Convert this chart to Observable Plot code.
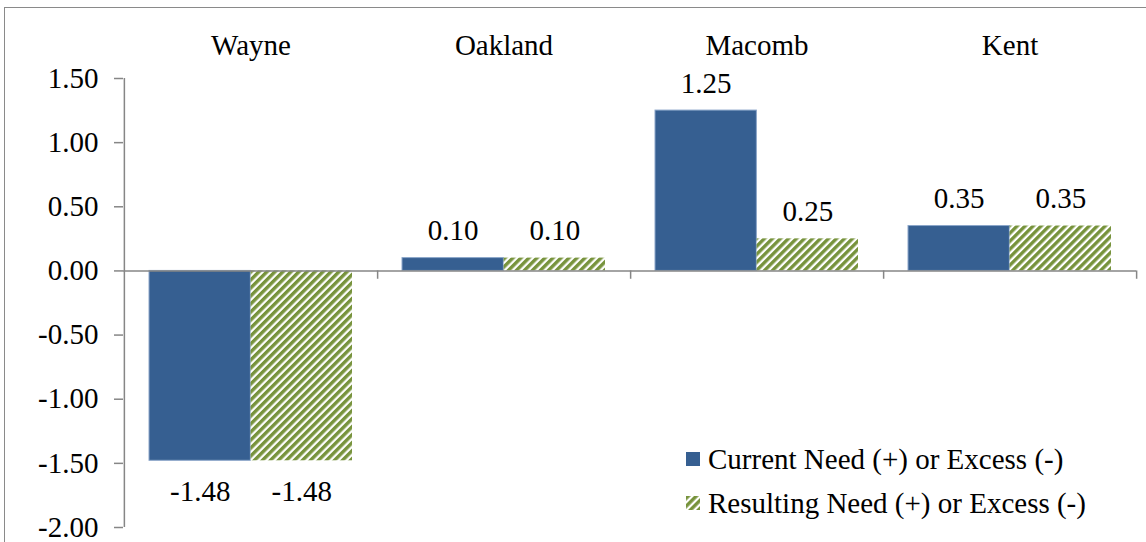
<!DOCTYPE html>
<html>
<head>
<meta charset="utf-8">
<script src="https://cdn.jsdelivr.net/npm/d3@7"></script>
<script src="https://cdn.jsdelivr.net/npm/@observablehq/plot@0.6"></script>
<style>
  html, body { margin: 0; padding: 0; background: #fff; }
  #wrap { position: relative; width: 1146px; height: 542px; overflow: hidden; font-family: "Liberation Serif", "Times New Roman", Tinos, "DejaVu Serif", serif; }
  #border { position: absolute; left: 4px; top: 7px; width: 2000px; height: 2000px; border-left: 1.5px solid #8a8a8a; border-top: 1.5px solid #8a8a8a; box-sizing: border-box; }
  #chart { position: absolute; left: 0; top: 0; }
  #chart svg, #chart svg text { font-family: "Liberation Serif", "Times New Roman", Tinos, "DejaVu Serif", serif !important; }
  #legend { position: absolute; left: 686px; top: 437px; font-size: 29px; color: #000; }
  .row { display: flex; align-items: center; height: 44px; white-space: nowrap; }
  .row svg { margin-right: 8px; flex: none; }
</style>
</head>
<body>
<div id="wrap">
  <div id="border"></div>
  <div id="chart"></div>
  <div id="legend"></div>
</div>
<script>
// ---- data ----
const counties = ["Wayne", "Oakland", "Macomb", "Kent"];
const currentNeed = [-1.48, 0.10, 1.25, 0.35];
const resultingNeed = [-1.48, 0.10, 0.25, 0.35];
const seriesNames = ["Current Need (+) or Excess (-)", "Resulting Need (+) or Excess (-)"];
const yTicks = [-2.0, -1.5, -1.0, -0.5, 0.0, 0.5, 1.0, 1.5];

// ---- layout / style ----
const W = 1146, H = 542;
const mL = 123, mR = 10, mT = 78, mB = 15;
const bw = (W - mL - mR) / counties.length;   // band width
const outer = 25;                              // gap between band edge and bars
const half = bw / 2;
const blue = "#365f91";
const green = "#77933c";
const gray = "#868686";
const fontSize = 29;
const serif = "Liberation Serif, Times New Roman, Tinos, DejaVu Serif, serif";

const rows = [];
counties.forEach((c, i) => {
  rows.push({county: c, series: seriesNames[0], value: currentNeed[i]});
  rows.push({county: c, series: seriesNames[1], value: resultingNeed[i]});
});
const cur = rows.filter(d => d.series === seriesNames[0]);
const res = rows.filter(d => d.series === seriesNames[1]);
const fmt = v => v.toFixed(2);
const curDx = -(half - outer) / 2;
const resDx = (half - outer) / 2;

function labels(data, dx) {
  const txt = {x: "county", y: "value", text: d => fmt(d.value), dx, fontSize, fontFamily: serif, fill: "#000", lineAnchor: "middle"};
  return [
    Plot.text(data.filter(d => d.value >= 0), {...txt, dy: -27}),
    Plot.text(data.filter(d => d.value < 0), {...txt, dy: 31})
  ];
}

const chart = Plot.plot({
  width: W,
  height: H,
  marginLeft: mL,
  marginRight: mR,
  marginTop: mT,
  marginBottom: mB,
  style: {fontSize: fontSize + "px", color: "#000", background: "transparent", overflow: "visible"},
  x: {type: "band", domain: counties, padding: 0, axis: null},
  y: {domain: [-2, 1.5], axis: null},
  marks: [
    Plot.barY(cur, {x: "county", y: "value", fill: blue, stroke: "#8ba6c9", strokeWidth: 1, insetLeft: outer, insetRight: half}),
    Plot.barY(res, {x: "county", y: "value", fill: "url(#hatch)", insetLeft: half, insetRight: outer}),
    // zero line (category axis)
    Plot.ruleY([0], {stroke: gray, strokeWidth: 1.5}),
    // category boundary ticks
    Plot.ruleX(counties, {x: d => d, dx: bw / 2, y1: 0, y2: -0.065, stroke: gray, strokeWidth: 1.5}),
    // value axis line
    Plot.ruleX([counties[0]], {x: d => d, dx: -bw / 2, y1: -2, y2: 1.5, stroke: gray, strokeWidth: 1.5}),
    Plot.axisY(yTicks, {ticks: yTicks, tickFormat: fmt, tickSize: 9, tickPadding: 16, stroke: gray, strokeWidth: 1.5, fontSize, fontFamily: serif, fill: "#000", label: null}),
    // county labels at top
    Plot.text(counties, {x: d => d, frameAnchor: "top", dy: -33, text: d => d, fontSize, fontFamily: serif, fill: "#000", lineAnchor: "middle"}),
    // value labels
    ...labels(cur, curDx),
    ...labels(res, resDx)
  ]
});

// hatch pattern definition
const defs = d3.select(chart).insert("defs", ":first-child");
function addHatch(sel, id) {
  const p = sel.append("pattern")
    .attr("id", id)
    .attr("patternUnits", "userSpaceOnUse")
    .attr("width", 5.66).attr("height", 5.66)
    .attr("patternTransform", "rotate(45)");
  p.append("rect").attr("width", 5.66).attr("height", 5.66).attr("fill", "#fff");
  p.append("rect").attr("width", 3.4).attr("height", 5.66).attr("fill", green);
}
addHatch(defs, "hatch");
document.getElementById("chart").appendChild(chart);

// legend
const legend = d3.select("#legend");
seriesNames.forEach((name, i) => {
  const row = legend.append("div").attr("class", "row");
  const sw = row.append("svg").attr("width", 14).attr("height", 14);
  if (i === 0) {
    sw.append("rect").attr("width", 14).attr("height", 14).attr("fill", blue);
  } else {
    addHatch(sw.append("defs"), "hatchLegend");
    sw.append("rect").attr("width", 14).attr("height", 14).attr("fill", "url(#hatchLegend)");
  }
  row.append("span").text(name);
});
</script>
</body>
</html>
